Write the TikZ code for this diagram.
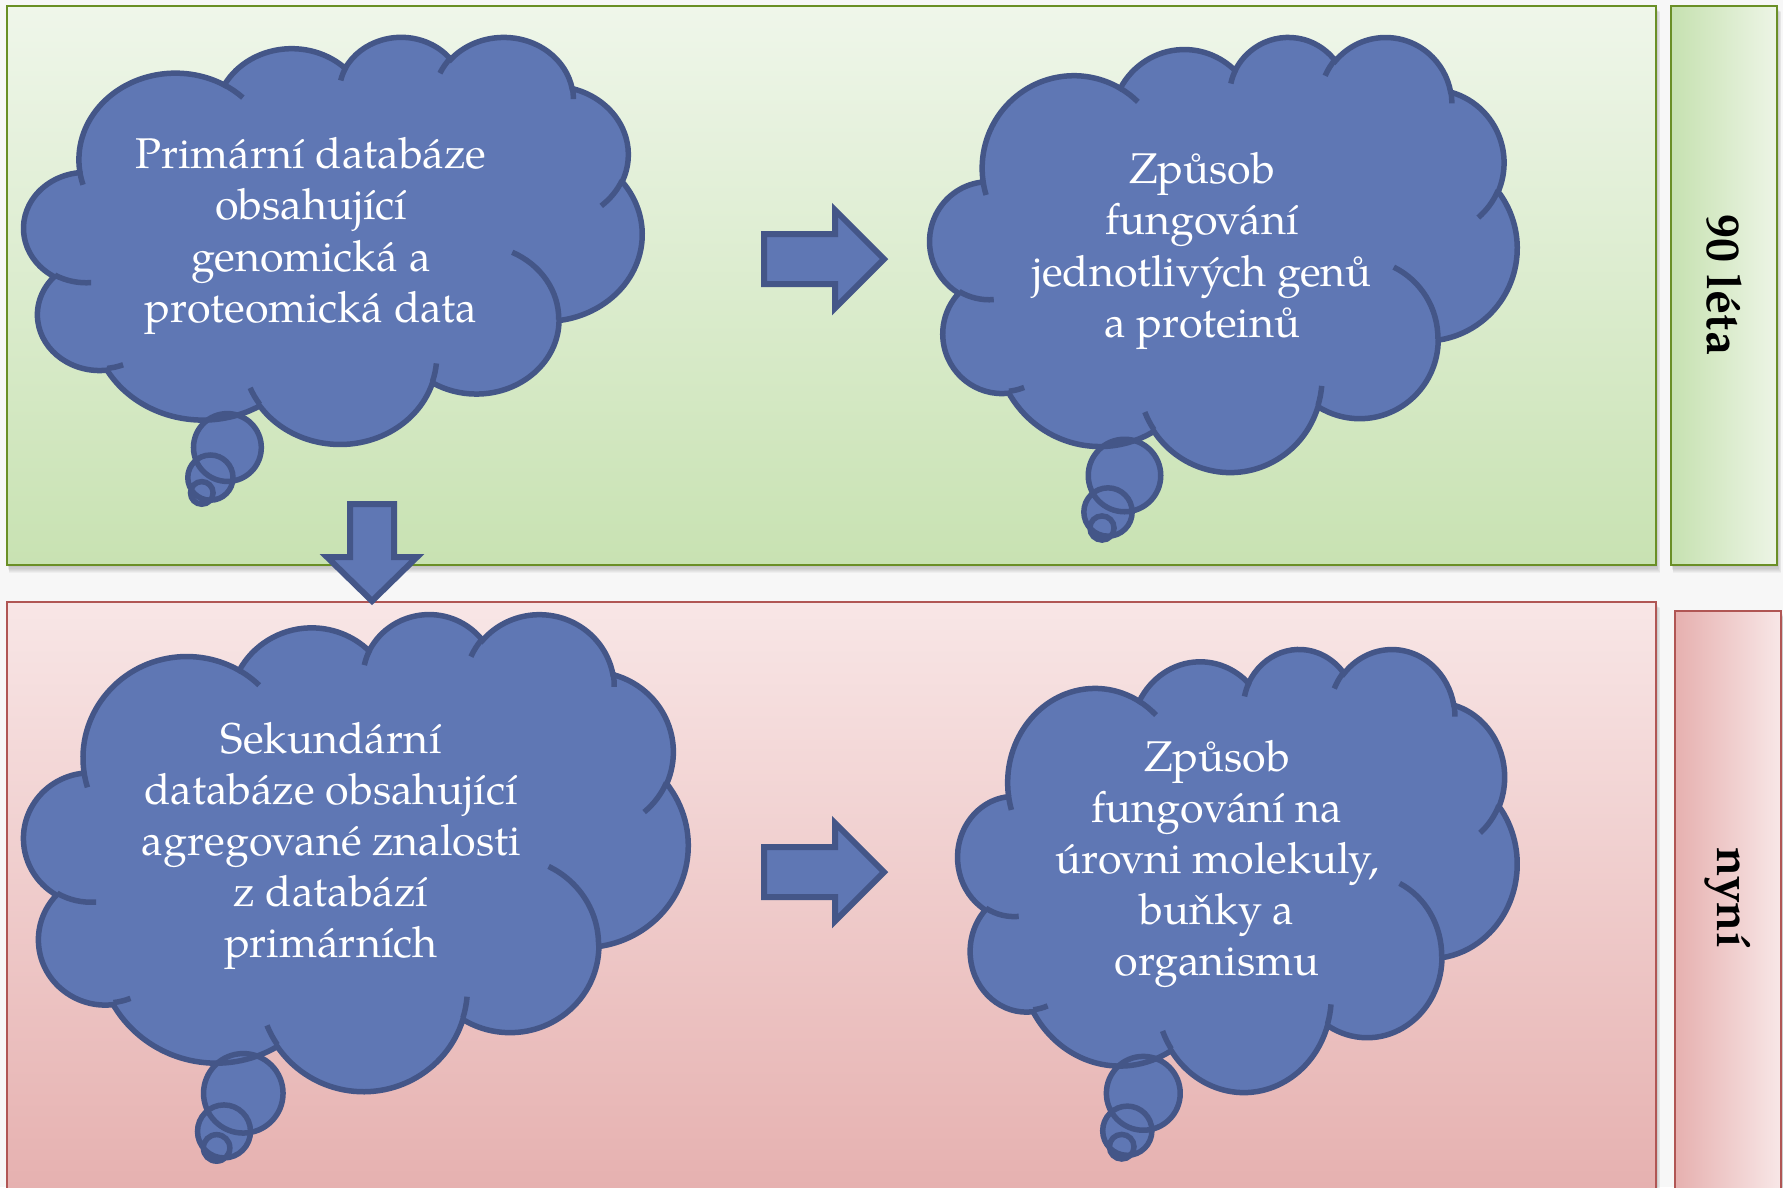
\documentclass[tikz,border=0pt]{standalone}
\usepackage{fontspec}
\setmainfont{TeX Gyre Pagella}
\definecolor{cloudfill}{HTML}{5F77B4}
\definecolor{cloudline}{HTML}{445688}
\definecolor{bgcol}{HTML}{F7F7F7}
\definecolor{gtop}{HTML}{EFF6EA}
\definecolor{gbot}{HTML}{C8E2B2}
\definecolor{glleft}{HTML}{C6E1B0}
\definecolor{glright}{HTML}{EDF5E6}
\definecolor{gline}{HTML}{6A8F26}
\definecolor{rtop}{HTML}{F8E6E6}
\definecolor{rbot}{HTML}{E6B1B0}
\definecolor{rlleft}{HTML}{E6B0AF}
\definecolor{rlright}{HTML}{F8E7E7}
\definecolor{rline}{HTML}{B05654}
\makeatletter
% arc of an OOXML ellipse: wR hR stAng swAng (visual angles, y downwards)
\newcommand\cldarc[4]{%
  \pgfmathsetmacro\cld@ts{atan2((#1)*sin(#3),(#2)*cos(#3))}%
  \pgfmathsetmacro\cld@te{atan2((#1)*sin((#3)+(#4)),(#2)*cos((#3)+(#4)))}%
  \pgfmathsetmacro\cld@d{mod((\cld@te)-(\cld@ts)-(#4)+900,360)-180+(#4)}%
  \pgfmathsetmacro\cld@e{(\cld@ts)+(\cld@d)}%
  \pgfpatharcaxes{\cld@ts}{\cld@e}{\pgfpointxy{#1}{0}}{\pgfpointxy{0}{#2}}%
}
\makeatother
\newcommand\cldbody{%
  \pgfpathmoveto{\pgfpointxy{390}{1437}}%
  \cldarc{675.3}{919.0}{-190.4875}{123.7805}%
  \cldarc{533.3}{726.7}{-144.1024}{89.9452}%
  \cldarc{436.5}{594.5}{-145.8079}{99.7230}%
  \cldarc{485.7}{659.5}{-130.9861}{117.2417}%
  \cldarc{533.3}{727.3}{-78.7089}{109.0269}%
  \cldarc{677.5}{922.0}{-46.2673}{130.2690}%
  \cldarc{578.5}{786.7}{0.6250}{114.0333}%
  \cldarc{675.2}{921.5}{22.4516}{115.1726}%
  \cldarc{772.0}{1054.3}{66.2426}{75.7110}%
  \cldarc{436.0}{591.8}{-274.9421}{146.7356}%
  \cldarc{434.5}{594.5}{-246.8285}{152.5189}%
  \pgfpathclose}
\newcommand\cldinner{%
  \pgfpathmoveto{\pgfpointxy{469.3}{2617.7}}\cldarc{434.5}{594.5}{86.7420}{26.4295}%
  \pgfpathmoveto{\pgfpointxy{692.8}{3489.9}}\cldarc{436.0}{591.8}{73.6105}{11.4475}%
  \pgfpathmoveto{\pgfpointxy{1647.8}{3909.0}}\cldarc{675.2}{921.5}{137.6242}{14.0811}%
  \pgfpathmoveto{\pgfpointxy{2882.7}{3475.1}}\cldarc{675.2}{921.5}{6.4533}{15.9984}%
  \pgfpathmoveto{\pgfpointxy{3412.9}{2295.4}}\cldarc{578.5}{786.7}{-70.2924}{70.9174}%
  \pgfpathmoveto{\pgfpointxy{4179.8}{1535.4}}\cldarc{533.3}{727.3}{30.3180}{27.7515}%
  \pgfpathmoveto{\pgfpointxy{3832.4}{542.6}}\cldarc{485.7}{659.5}{-13.7443}{14.8589}%
  \pgfpathmoveto{\pgfpointxy{2907.8}{395.2}}\cldarc{485.7}{659.5}{-149.1815}{18.1954}%
  \pgfpathmoveto{\pgfpointxy{2214.1}{472.0}}\cldarc{436.5}{594.5}{-163.4943}{17.6864}%
  \pgfpathmoveto{\pgfpointxy{1400.0}{519.2}}\cldarc{675.3}{919.0}{-66.7070}{12.3194}%
  \pgfpathmoveto{\pgfpointxy{412.7}{1578.9}}\cldarc{675.3}{919.0}{157.6544}{11.8582}%
}
% #1 X0, #2 Y0, #3 W, #4 H, #5 big, #6 medium, #7 small tail centres
\newcommand\drawcloud[7]{%
  \pgfmathsetmacro\cldxu{(#3)/4320}%
  \pgfmathsetmacro\cldyu{(#4)/4320}%
  \pgfmathsetmacro\cldr{(#4)/12}%
  \begin{scope}[shift={(#1,#2)}, x=\cldxu pt, y=-\cldyu pt]
    \pgfsetfillcolor{cloudfill}\cldbody\pgfusepath{fill}%
  \end{scope}
  \fill[cloudfill] #5 circle[radius=\cldr] #6 circle[radius=2*\cldr/3] #7 circle[radius=\cldr/3];
  \begin{scope}[shift={(#1,#2)}, x=\cldxu pt, y=-\cldyu pt]
    \pgfsetstrokecolor{cloudline}\pgfsetlinewidth{5.5pt}%
    \cldbody\pgfusepath{stroke}%
    \cldinner\pgfusepath{stroke}%
  \end{scope}
  \draw[cloudline, line width=5.5pt] #5 circle[radius=\cldr] #6 circle[radius=2*\cldr/3] #7 circle[radius=\cldr/3];
}
\tikzset{
  ctext/.style={text=white, align=center, inner sep=0pt, font=\fontsize{43}{51.2}\selectfont},
  lbltext/.style={text=black, inner sep=0pt, rotate=-90, font=\fontsize{48}{52}\selectfont\bfseries},
  blockarrow/.style={fill=cloudfill, draw=cloudline, line width=6pt, line join=miter},
  shadowlayer/.style={fill=black, opacity=0.035}
}
\begin{document}
\begin{tikzpicture}[x=1pt, y=-1pt]
\useasboundingbox (0,0) rectangle (1783,1187);
\clip (0,0) rectangle (1783,1187);
\fill[bgcol] (0,0) rectangle (1783,1187);
% shadows
\foreach \k in {1,...,7}{
  \fill[shadowlayer] (7+0.3*\k,6+0.9*\k) rectangle (1656+0.6*\k,565+1.2*\k);
  \fill[shadowlayer] (1671+0.3*\k,6+0.9*\k) rectangle (1777+0.6*\k,565+1.2*\k);
  \fill[shadowlayer] (7+0.3*\k,602+0.9*\k) rectangle (1656+0.6*\k,1200);
  \fill[shadowlayer] (1675+0.3*\k,611+0.9*\k) rectangle (1781+0.6*\k,1200);
}
% panels
\shade[top color=gtop, bottom color=gbot] (7,6) rectangle (1656,565);
\draw[gline, line width=2.5pt] (7,6) rectangle (1656,565);
\shade[left color=glleft, right color=glright] (1671,6) rectangle (1777,565);
\draw[gline, line width=2.5pt] (1671,6) rectangle (1777,565);
\shade[top color=rtop, bottom color=rbot] (7,602) rectangle (1656,1187);
\draw[rline, line width=2.5pt] (7,602) rectangle (1656,1200);
\shade[left color=rlleft, right color=rlright] (1675,611) rectangle (1781,1187);
\draw[rline, line width=2.5pt] (1675,611) rectangle (1781,1200);
% clouds
\drawcloud{24}{36}{618}{407}{(227.4,447.5)}{(210.4,477.6)}{(201.8,492.9)}
\drawcloud{930}{36}{587}{435}{(1124.5,475.5)}{(1108,512)}{(1102,528)}
\drawcloud{24}{613}{664}{477}{(243.3,1093.3)}{(224,1131.4)}{(216.6,1147.9)}
\drawcloud{958}{648}{559}{443}{(1143.3,1093.3)}{(1127.3,1130.7)}{(1121.7,1146.7)}
% arrows
\draw[blockarrow] (764,234) -- (835,234) -- (835,210) -- (884,259) -- (835,308) -- (835,284) -- (764,284) -- cycle;
\draw[blockarrow] (764,847) -- (835,847) -- (835,823) -- (884,872) -- (835,921) -- (835,897) -- (764,897) -- cycle;
\draw[blockarrow] (350,504) -- (394,504) -- (394,557) -- (417,557) -- (372,601) -- (327,557) -- (350,557) -- cycle;
% texts
\node[ctext] (t1) at (311,236) {Primární databáze\\obsahující\\genomická a\\proteomická data};
\node[ctext] (t2) at (1202,251) {Způsob\\fungování\\jednotlivých genů\\a proteinů};
\node[ctext] (t3) at (331,846) {Sekundární\\databáze obsahující\\agregované znalosti\\z databází\\primárních};
\node[ctext] (t4) at (1217,864) {Způsob\\fungování na\\úrovni molekuly,\\buňky a\\organismu};
\node[lbltext] (l1) at (1724,285) {90 léta};
\node[lbltext] (l2) at (1728,898) {nyní};
\end{tikzpicture}
\end{document}
